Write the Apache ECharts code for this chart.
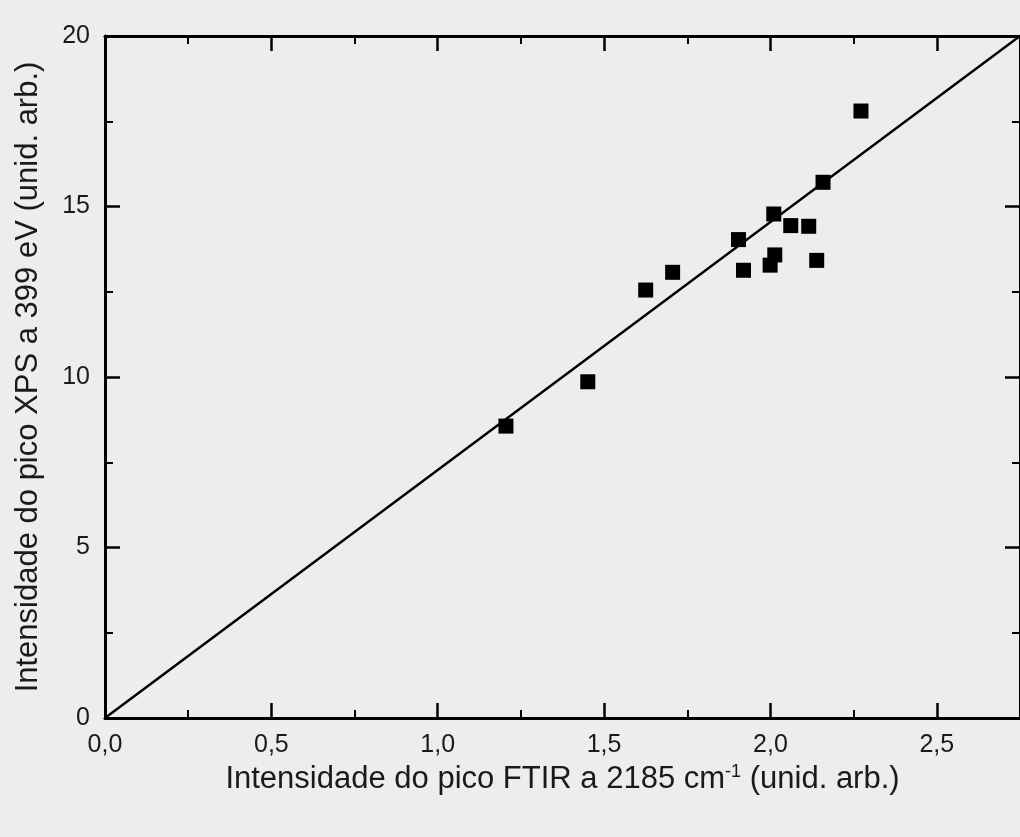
<!DOCTYPE html>
<html>
<head>
<meta charset="utf-8">
<script src="https://cdn.jsdelivr.net/npm/echarts@6/dist/echarts.min.js"></script>
<style>
html,body{margin:0;padding:0;background:#ededed;}
#chart{width:1020px;height:837px;}
</style>
</head>
<body>
<div id="chart"></div>
<script>
// FTIR intensity (x) vs XPS intensity (y)
const ftir = [1.205, 1.451, 1.625, 1.706, 1.904, 1.919, 1.999, 2.010, 2.013, 2.061, 2.115, 2.139, 2.158, 2.272];
const xps  = [8.56, 9.86, 12.55, 13.07, 14.03, 13.13, 13.28, 14.78, 13.58, 14.44, 14.42, 13.42, 15.71, 17.80];
// linear fit through origin
const fitX = [0, 2.75];
const fitY = [0, 20];
const xTicks = [0, 0.5, 1.0, 1.5, 2.0, 2.5];
const yTicks = [0, 5, 10, 15, 20];

const font = "'Liberation Sans', Arial, sans-serif";
const chart = echarts.init(document.getElementById('chart'));
const axisLine = {show: true, onZero: false, lineStyle: {color: '#000', width: 3}};
const tickIn = {show: true, inside: true, length: 15, lineStyle: {color: '#000', width: 2.5}};
const minorIn = {show: true, splitNumber: 2, length: 8, lineStyle: {color: '#000', width: 2}};
chart.setOption({
  backgroundColor: '#ededed',
  animation: false,
  grid: {left: 105, right: -10, top: 36, bottom: 119},
  xAxis: [{
    type: 'value', min: 0, max: 2.75, interval: 0.5, position: 'bottom',
    axisLine: axisLine, axisTick: tickIn, minorTick: minorIn, splitLine: {show: false},
    axisLabel: {
      margin: 15, fontFamily: font, fontSize: 25, color: '#1a1a1a',
      showMaxLabel: false,
      formatter: v => xTicks.some(t => Math.abs(t - v) < 1e-6) ? v.toFixed(1).replace('.', ',') : ''
    },
    name: 'Intensidade do pico FTIR a 2185 cm{sup|-1} (unid. arb.)',
    nameLocation: 'middle', nameGap: 44,
    nameTextStyle: {fontFamily: font, fontSize: 31, color: '#1a1a1a',
      rich: {sup: {fontFamily: font, fontSize: 18, color: '#1a1a1a', verticalAlign: 'top', padding: [0, 0, 16, 0]}}}
  }, {
    type: 'value', min: 0, max: 2.75, interval: 0.5, position: 'top',
    axisLine: axisLine, axisTick: tickIn, minorTick: minorIn, splitLine: {show: false},
    axisLabel: {show: false}
  }],
  yAxis: [{
    type: 'value', min: 0, max: 20, interval: 5, position: 'left',
    axisLine: axisLine, axisTick: tickIn, minorTick: minorIn, splitLine: {show: false},
    axisLabel: {margin: 15, fontFamily: font, fontSize: 25, color: '#1a1a1a',
      formatter: v => yTicks.includes(v) ? String(v) : ''},
    name: 'Intensidade do pico XPS a 399 eV (unid. arb.)',
    nameLocation: 'middle', nameGap: 61,
    nameTextStyle: {fontFamily: font, fontSize: 31, color: '#1a1a1a'}
  }, {
    type: 'value', min: 0, max: 20, interval: 5, position: 'right',
    axisLine: axisLine, axisTick: tickIn, minorTick: minorIn, splitLine: {show: false},
    axisLabel: {show: false}
  }],
  series: [{
    type: 'line', xAxisIndex: 0, yAxisIndex: 0,
    data: fitX.map((x, i) => [x, fitY[i]]),
    symbol: 'none', lineStyle: {color: '#000', width: 2.5}, z: 2
  }, {
    type: 'scatter', xAxisIndex: 0, yAxisIndex: 0,
    data: ftir.map((x, i) => [x, xps[i]]),
    symbol: 'rect', symbolSize: 15, itemStyle: {color: '#000', opacity: 1}, z: 3
  }]
});
</script>
</body>
</html>
